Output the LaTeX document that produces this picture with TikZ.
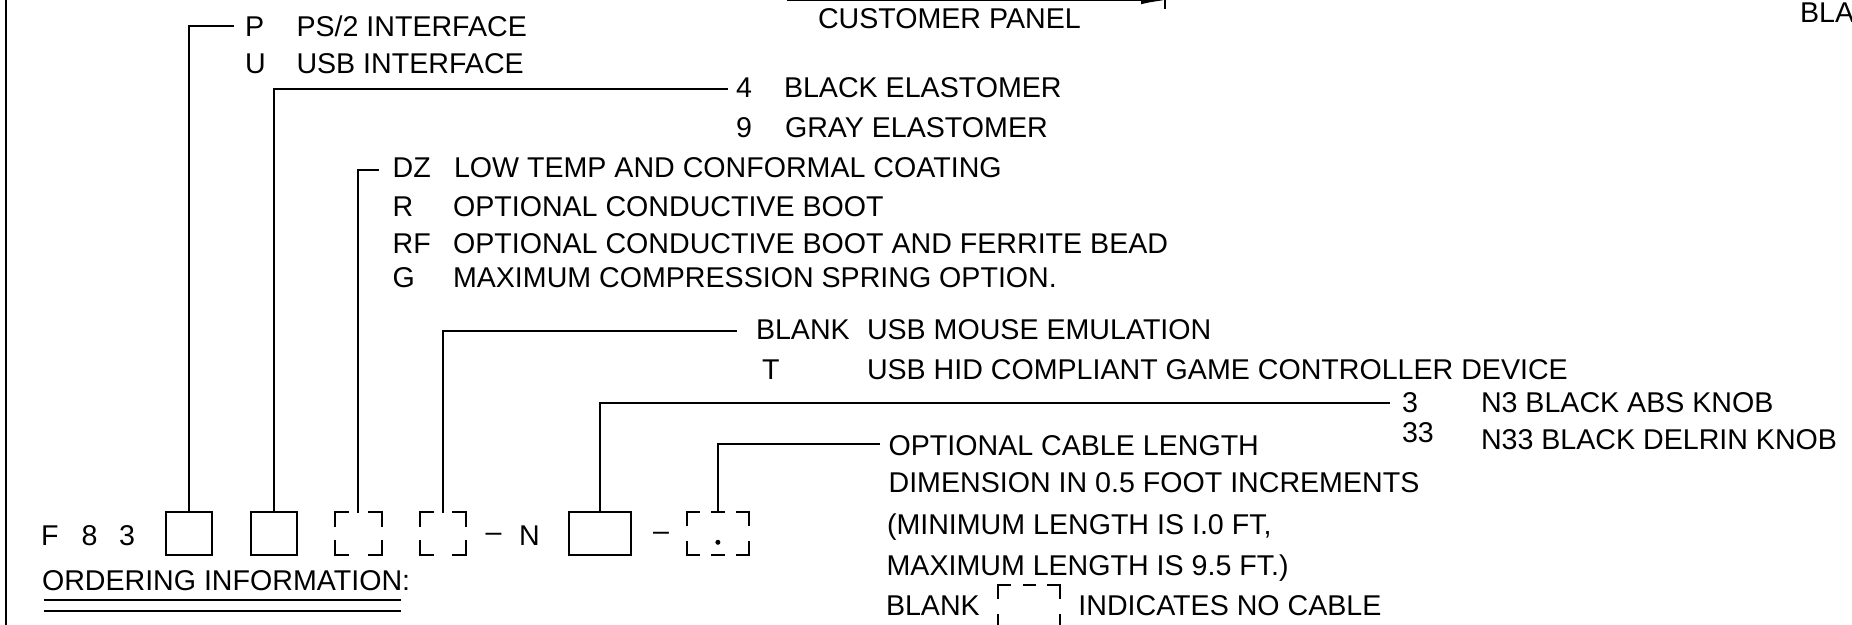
\documentclass[tikz,border=0pt]{standalone}
\usepackage{fontspec}
\setmainfont{Liberation Sans}
\usetikzlibrary{arrows.meta,calc}
\newcommand{\cadfont}{\fontsize{14.3pt}{17pt}\selectfont}
% L-shaped corner marks for a dashed placeholder box
\newcommand{\dcorners}[3]{%
  \draw[conn] ($(#1.north west)+(0,#3)$) -- (#1.north west) -- ++(#2,0);
  \draw[conn] ($(#1.north east)+(0,#3)$) -- (#1.north east) -- ++(-#2,0);
  \draw[conn] ($(#1.south west)+(0,-#3)$) -- (#1.south west) -- ++(#2,0);
  \draw[conn] ($(#1.south east)+(0,-#3)$) -- (#1.south east) -- ++(-#2,0);}
\newcommand{\dmiddle}[2]{%
  \draw[conn] ($(#1.north)+(-#2,0)$) -- ($(#1.north)+(#2,0)$);
  \draw[conn] ($(#1.south)+(-#2,0)$) -- ($(#1.south)+(#2,0)$);}
\begin{document}
\begin{tikzpicture}[x=0.5pt,y=-0.5pt,
  lbl/.style={anchor=base west, inner sep=0pt, outer sep=0pt, font=\cadfont},
  lblc/.style={anchor=base, inner sep=0pt, outer sep=0pt, font=\cadfont},
  conn/.style={line width=1pt, line cap=rect},
  sbox/.style={draw, line width=1pt, inner sep=0pt, outer sep=0pt, minimum width=23.25pt, minimum height=21.5pt},
  dbox/.style={inner sep=0pt, outer sep=0pt, minimum width=23.25pt, minimum height=21.5pt},
  wbox/.style={inner sep=0pt, outer sep=0pt, minimum width=31pt, minimum height=21.5pt}]
\useasboundingbox (0,0) rectangle (1852,625);
\clip (0,0) rectangle (1852,625);

% left frame line
\coordinate (bl1) at (5.5,-2);
\coordinate (bl2) at (5.5,627);
\draw[line width=1pt] (bl1) -- (bl2);

% top: customer panel dimension
\coordinate (cpA) at (787,0.3);
\coordinate (cpB) at (1165,0.3);
\draw[line width=1pt,-{Latex[length=12pt,width=4pt]}] (cpA) -- (cpB);
\coordinate (tk1) at (1165,-2);
\coordinate (tk2) at (1165,9);
\draw[line width=1pt] (tk1) -- (tk2);
\node[lbl] (tCP) at (818,29) {CUSTOMER PANEL};
\node[lbl] (tBLA) at (1800,23) {BLA};

% part number row
\node[lbl] (tF) at (41,545) {F};
\node[lbl] (t8) at (81.5,545) {8};
\node[lbl] (t3b) at (119,545) {3};
\node[sbox] (box1) at (189.15,533.5) {};
\node[sbox] (box2) at (273.85,533.5) {};
\node[dbox] (box3) at (358.45,533.5) {};
\node[dbox] (box4) at (442.8,533.5) {};
\node[lblc] (dash1) at (493.5,541) {–};
\node[lbl] (tN) at (519,545) {N};
\node[sbox,minimum width=30.65pt] (box5) at (600,533.5) {};
\node[lblc] (dash2) at (661,540) {–};
\node[wbox] (box6) at (717.9,533.5) {};
\dcorners{box3}{13}{14}
\dcorners{box4}{13}{14}
\dcorners{box6}{12}{13}
\dmiddle{box6}{5.75}
\fill ($(box6.center)+(0,8.8)$) circle (1.25pt);

% ordering information
\node[lbl] (tOrd) at (42,590) {ORDERING INFORMATION:};
\coordinate (u1a) at (43.5,600);
\coordinate (u1b) at (400.5,600);
\coordinate (u2a) at (43.5,610.7);
\coordinate (u2b) at (400.5,610.7);
\draw[line width=1pt] (u1a) -- (u1b);
\draw[line width=1pt] (u2a) -- (u2b);

% interface
\coordinate (eP) at (233.3,25.7);
\draw[conn] (box1.north) |- (eP);
\node[lbl] (tP) at (245,37) {P};
\node[lbl] (tPd) at (296.5,37) {PS/2 INTERFACE};
\node[lbl] (tU) at (245,74) {U};
\node[lbl] (tUd) at (296.5,74) {USB INTERFACE};

% elastomer
\coordinate (eE) at (726.5,89.3);
\draw[conn] (box2.north) |- (eE);
\node[lbl] (t4) at (736,98) {4};
\node[lbl] (t4d) at (784,98) {BLACK ELASTOMER};
\node[lbl] (t9) at (736,138) {9};
\node[lbl] (t9d) at (785,138) {GRAY ELASTOMER};

% options
\coordinate (eDZ) at (377.6,170);
\draw[conn] (box3.north) |- (eDZ);
\node[lbl] (tDZ) at (392.6,178) {DZ};
\node[lbl] (tDZd) at (454,178) {LOW TEMP AND CONFORMAL COATING};
\node[lbl] (tR) at (392.6,217) {R};
\node[lbl] (tRd) at (453,217) {OPTIONAL CONDUCTIVE BOOT};
\node[lbl] (tRF) at (392.6,254) {RF};
\node[lbl] (tRFd) at (453,254) {OPTIONAL CONDUCTIVE BOOT AND FERRITE BEAD};
\node[lbl] (tG) at (392.6,288) {G};
\node[lbl] (tGd) at (453,288) {MAXIMUM COMPRESSION SPRING OPTION.};

% emulation
\coordinate (eBL) at (736.4,331);
\draw[conn] (box4.north) |- (eBL);
\node[lbl] (tBL) at (756,340) {BLANK};
\node[lbl] (tBLd) at (867,340) {USB MOUSE EMULATION};
\node[lbl] (tT) at (762,380) {T};
\node[lbl] (tTd) at (867,380) {USB HID COMPLIANT GAME CONTROLLER DEVICE};

% knob
\coordinate (eK) at (1389.2,402.7);
\draw[conn] (box5.north) |- (eK);
\node[lbl] (t3) at (1402,413) {3};
\node[lbl] (t3d) at (1481,413) {N3 BLACK ABS KNOB};
\node[lbl] (t33) at (1402,443) {33};
\node[lbl] (t33d) at (1481,450) {N33 BLACK DELRIN KNOB};

% cable length
\coordinate (eC) at (878.8,444.3);
\draw[conn] (box6.north) |- (eC);
\node[lbl] (tc1) at (888.6,455) {OPTIONAL CABLE LENGTH};
\node[lbl] (tc2) at (888.6,492) {DIMENSION IN 0.5 FOOT INCREMENTS};
\node[lbl] (tc3) at (887,534) {(MINIMUM LENGTH IS I.0 FT,};
\node[lbl] (tc4) at (886.6,575) {MAXIMUM LENGTH IS 9.5 FT.)};
\node[lbl] (tc5) at (886,615) {BLANK};
\node[wbox] (box7) at (1029.25,606.5) {};
\dcorners{box7}{12}{13}
\dmiddle{box7}{5.75}
\node[lbl] (tc6) at (1078.4,615) {INDICATES NO CABLE};
\end{tikzpicture}
\end{document}
